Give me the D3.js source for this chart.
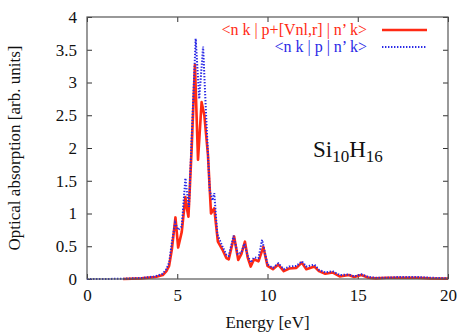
<!DOCTYPE html>
<html>
<head>
<meta charset="utf-8">
<script src="https://cdn.jsdelivr.net/npm/d3@7"></script>
<style>
  body { margin: 0; background: #fff; }
  text { font-family: "Liberation Serif", "DejaVu Serif", serif; }
</style>
</head>
<body>
<div id="chart"></div>
<script>
// energies [eV] and absorption
var redE = [2, 3, 3.8, 4.2, 4.4, 4.55, 4.7, 4.9, 5.05, 5.25, 5.45, 5.52, 5.62, 5.8, 5.98, 6.15, 6.35, 6.5, 6.7, 6.87, 7.05, 7.25, 7.5, 7.72, 7.85, 8.15, 8.38, 8.55, 8.75, 8.9, 9.07, 9.25, 9.5, 9.77, 10.0, 10.3, 10.6, 10.9, 11.2, 11.6, 11.9, 12.15, 12.6, 12.85, 13.2, 13.6, 14.0, 14.5, 14.8, 15.2, 15.6, 16.0, 16.6, 17.2, 18.3, 19.0, 20];
var redA = [0, 0.01, 0.03, 0.06, 0.12, 0.2, 0.45, 0.94, 0.48, 0.72, 1.25, 1.1, 0.95, 2.0, 3.27, 1.82, 2.7, 2.5, 1.9, 1.0, 1.08, 0.57, 0.45, 0.32, 0.3, 0.65, 0.29, 0.38, 0.57, 0.33, 0.19, 0.3, 0.27, 0.49, 0.2, 0.15, 0.22, 0.12, 0.16, 0.17, 0.25, 0.15, 0.19, 0.12, 0.08, 0.1, 0.04, 0.06, 0.03, 0.06, 0.02, 0.01, 0.02, 0.02, 0.02, 0.01, 0.005];

var blueE = [0, 1, 2, 3, 3.8, 4.2, 4.4, 4.55, 4.7, 4.88, 5.05, 5.25, 5.45, 5.55, 5.65, 5.85, 6.02, 6.22, 6.43, 6.6, 6.8, 6.95, 7.05, 7.22, 7.5, 7.72, 7.85, 8.12, 8.35, 8.55, 8.72, 8.9, 9.07, 9.25, 9.5, 9.7, 10.0, 10.3, 10.6, 10.9, 11.2, 11.6, 11.9, 12.15, 12.6, 12.85, 13.2, 13.6, 14.0, 14.5, 14.8, 15.2, 15.6, 16.0, 16.6, 17.2, 18.3, 19.0, 20];
var blueA = [0, 0, 0.005, 0.015, 0.04, 0.08, 0.15, 0.25, 0.55, 0.86, 0.75, 0.8, 1.54, 1.3, 1.1, 2.5, 3.67, 2.75, 3.55, 2.5, 1.35, 1.2, 1.31, 0.68, 0.5, 0.37, 0.35, 0.66, 0.38, 0.4, 0.54, 0.36, 0.25, 0.33, 0.32, 0.6, 0.22, 0.17, 0.24, 0.15, 0.19, 0.2, 0.27, 0.19, 0.22, 0.14, 0.1, 0.12, 0.06, 0.07, 0.04, 0.07, 0.03, 0.02, 0.02, 0.03, 0.03, 0.02, 0.01];

var xTicks = [0, 5, 10, 15, 20];
var yTicks = [0, 0.5, 1, 1.5, 2, 2.5, 3, 3.5, 4];
var yTickLabels = ["0", "0.5", "1", "1.5", "2", "2.5", "3", "3.5", "4"];
var legendLabels = ["<n k | p+[Vnl,r] | n\u2019 k>", "<n k | p | n\u2019 k>"];

var w = 460, h = 333;
// plot box (window.top is taken, so prefixed names)
var pLeft = 87, pRight = 448, pTop = 17, pBottom = 279;
var red = "#ff2a14", blue = "#2a2ae6";

var svg = d3.select("#chart").append("svg")
            .attr("width", w)
            .attr("height", h);

var x = d3.scaleLinear().domain([0, 20]).range([pLeft, pRight]);
var y = d3.scaleLinear().domain([0, 4]).range([pBottom, pTop]);

// ticks, mirrored on all four sides and pointing inward
svg.append("g")
   .attr("transform", "translate(0," + pBottom + ")")
   .call(d3.axisBottom(x).tickValues(xTicks).tickSize(-5).tickPadding(10).tickFormat(d3.format("d")))
   .call(function(g) { g.select(".domain").remove(); });
svg.append("g")
   .attr("transform", "translate(0," + pTop + ")")
   .call(d3.axisTop(x).tickValues(xTicks).tickSize(-5).tickFormat(""))
   .call(function(g) { g.select(".domain").remove(); });
svg.append("g")
   .attr("transform", "translate(" + pLeft + ",0)")
   .call(d3.axisLeft(y).tickValues(yTicks).tickSize(-5).tickPadding(10)
           .tickFormat(function(d, i) { return yTickLabels[i]; }))
   .call(function(g) { g.select(".domain").remove(); });
svg.append("g")
   .attr("transform", "translate(" + pRight + ",0)")
   .call(d3.axisRight(y).tickValues(yTicks).tickSize(-5).tickFormat(""))
   .call(function(g) { g.select(".domain").remove(); });

svg.selectAll(".tick line").style("stroke", "#333");
svg.selectAll(".tick text")
   .style("font-family", "'Liberation Serif', serif")
   .style("font-size", "17px")
   .style("fill", "#111");

var line = d3.line()
             .x(function(d) { return x(d[0]); })
             .y(function(d) { return y(d[1]); });

svg.append("path")
   .datum(d3.zip(redE, redA))
   .attr("d", line)
   .style("fill", "none")
   .style("stroke", red)
   .style("stroke-width", 2.6)
   .style("stroke-linejoin", "round");

svg.append("path")
   .datum(d3.zip(blueE, blueA))
   .attr("d", line)
   .style("fill", "none")
   .style("stroke", blue)
   .style("stroke-width", 2)
   .style("stroke-dasharray", "1.4,1.6");

// frame
svg.append("rect")
   .attr("x", pLeft).attr("y", pTop)
   .attr("width", pRight - pLeft).attr("height", pBottom - pTop)
   .style("fill", "none")
   .style("stroke", "#555")
   .style("stroke-width", 1.2);

// legend
svg.append("text")
   .attr("x", 367).attr("y", 35)
   .attr("text-anchor", "end")
   .style("font-size", "16px")
   .style("fill", red)
   .text(legendLabels[0]);
svg.append("line")
   .attr("x1", 382).attr("x2", 427).attr("y1", 30).attr("y2", 30)
   .style("stroke", red).style("stroke-width", 2.6);

svg.append("text")
   .attr("x", 367).attr("y", 52)
   .attr("text-anchor", "end")
   .style("font-size", "16px")
   .style("fill", blue)
   .text(legendLabels[1]);
svg.append("line")
   .attr("x1", 382).attr("x2", 427).attr("y1", 47).attr("y2", 47)
   .style("stroke", blue).style("stroke-width", 2)
   .style("stroke-dasharray", "1.4,1.6");

// formula label
var f = svg.append("text")
           .attr("x", 313).attr("y", 157)
           .style("font-size", "23px")
           .style("fill", "#111");
f.append("tspan").text("Si");
f.append("tspan").attr("dy", 5).style("font-size", "17px").text("10");
f.append("tspan").attr("dy", -5).text("H");
f.append("tspan").attr("dy", 5).style("font-size", "17px").text("16");

// axis titles
svg.append("text")
   .attr("x", (pLeft + pRight) / 2).attr("y", 328)
   .attr("text-anchor", "middle")
   .style("font-size", "17px")
   .style("fill", "#111")
   .text("Energy [eV]");

svg.append("text")
   .attr("transform", "translate(20," + (pTop + pBottom) / 2 + ") rotate(-90)")
   .attr("text-anchor", "middle")
   .style("font-size", "17px")
   .style("fill", "#111")
   .text("Optical absorption [arb. units]");
</script>
</body>
</html>
